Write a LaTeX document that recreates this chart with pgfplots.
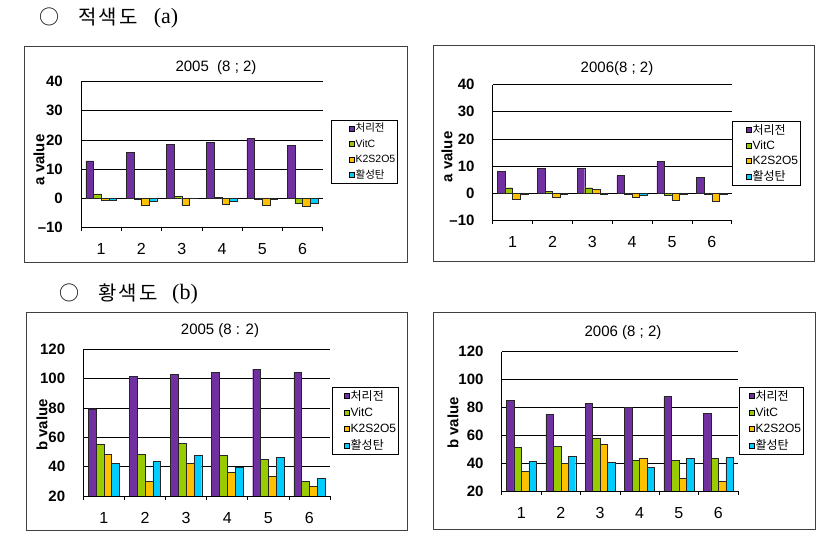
\documentclass[border=0pt]{standalone}
\usepackage{pgfplots}
\usepackage{pgfplotstable}
\pgfplotsset{compat=1.18}
\usepackage{fontspec}
\setmainfont{Liberation Sans}
\newfontfamily\kr{Noto Sans CJK KR}
\newfontfamily\krh[LetterSpace=12]{Noto Sans CJK KR}
\newfontfamily\serif{Liberation Serif}
\definecolor{cP}{RGB}{112,48,160}
\definecolor{cG}{RGB}{153,204,0}
\definecolor{cO}{RGB}{255,192,0}
\definecolor{cC}{RGB}{0,204,255}

% x  purple green orange cyan
\pgfplotstableread{
x p g o c
1 12.8 1.5 -0.8 -0.8
2 15.8 -0.3 -2.5 -1.0
3 18.5 0.7 -2.5 -0.1
4 19.2 0.3 -2.1 -1.0
5 20.5 -0.3 -2.5 -0.3
6 18.2 -1.8 -2.9 -1.8
}\tA
\pgfplotstableread{
x p g o c
1 8.0 2.0 -2.1 -0.5
2 9.2 0.6 -1.6 -0.5
3 9.2 2.0 1.5 -0.3
4 6.5 -0.3 -1.6 -0.9
5 11.7 -0.9 -2.5 -0.5
6 5.8 -0.3 -2.8 -0.3
}\tB
\pgfplotstableread{
x p g o c
1 79.5 55.2 48.4 42.3
2 101.6 48.4 30.0 43.6
3 103.0 55.9 42.3 47.7
4 104.3 47.7 36.1 39.5
5 106.4 45.0 33.4 46.4
6 104.3 30.0 26.8 32.0
}\tC
\pgfplotstableread{
x p g o c
1 85.0 51.4 34.3 41.4
2 75.0 52.1 40.0 45.0
3 82.9 57.8 53.5 40.7
4 80.0 42.2 43.6 37.1
5 87.9 42.2 29.1 43.6
6 75.7 43.6 26.9 44.3
}\tD

\def\lpad{12pt}
\newcommand\ls{\rule[-0.28em]{0pt}{1.05em}}
\pgfplotsset{
  lg/.style={legend image code/.code={\path (0pt,0pt) (\lpad+6pt,0pt);\draw[##1, draw=black, line width=0.4pt] (\lpad,-2.5pt) rectangle (\lpad+5pt,2.5pt);}},
  panel/.style={
    scale only axis, anchor=south west,
    ybar=0pt, bar width=0.19,
    xmin=0.5, xmax=6.5,
    xtick={1,2,3,4,5,6}, xticklabels={1,2,3,4,5,6},
    minor xtick={0.5,1.5,...,6.5},
    major tick length=0pt, minor tick length=4pt, tick align=outside,
    tick style={black, line width=0.6pt},
    axis x line*=bottom, axis y line*=left,
    axis line style={-, black, line width=0.8pt},
    ymajorgrids, grid style={black, line width=0.7pt},
    xticklabel style={font=\fontsize{16}{16}\selectfont, anchor=north, inner sep=0pt, yshift=-16pt},
    yticklabel style={font=\bfseries\fontsize{15}{15}\selectfont, anchor=east, inner sep=0pt, xshift=-18pt},
    legend cell align=left,
    legend style={anchor=north west, draw=black, line width=0.6pt,
      inner xsep=1.5pt, inner ysep=2pt,
      nodes={inner xsep=0.5pt, inner ysep=1pt}},
  },
  bp/.style={fill=cP, draw=black!85, line width=0.4pt, lg},
  bg/.style={fill=cG, draw=black!85, line width=0.4pt, lg},
  bo/.style={fill=cO, draw=black!85, line width=0.4pt, lg},
  bc/.style={fill=cC, draw=black!85, line width=0.4pt, lg},
}

\begin{document}
\begin{tikzpicture}[x=1pt,y=1pt]
\useasboundingbox (0,0) rectangle (837,540);
\fill[white] (0,0) rectangle (837,540);

% headers
\node at (49,523) {\kr\fontsize{20}{20}\selectfont ○};
\node at (108,523) {\krh\fontsize{20}{20}\selectfont 적색도};
\node at (166,522) {\serif\fontsize{22}{22}\selectfont (a)};
\node at (69.5,247) {\kr\fontsize{20}{20}\selectfont ○};
\node at (128,247) {\krh\fontsize{20}{20}\selectfont 황색도};
\node at (185,246) {\serif\fontsize{22}{22}\selectfont (b)};

% frames
\draw[line width=0.8pt, black!75] (24,278) rectangle (407,494);
\draw[line width=0.8pt, black!75] (433,279) rectangle (814,495);
\draw[line width=0.8pt, black!75] (26,10) rectangle (407,228);
\draw[line width=0.8pt, black!75] (433,11) rectangle (815,228);

% titles
\node at (216,472) {\fontsize{15}{15}\selectfont 2005\ \ (8 ; 2)};
\node at (617,471) {\fontsize{15}{15}\selectfont 2006(8 ; 2)};
\node at (220,209) {\fontsize{15}{15}\selectfont 2005 (8 : 2)};
\node at (623,207) {\fontsize{15}{15}\selectfont 2006 (8 ; 2)};

% y labels
\node[rotate=90] at (39,380) {\bfseries\fontsize{15}{15}\selectfont a value};
\node[rotate=90] at (447,383) {\bfseries\fontsize{15}{15}\selectfont a value};
\node[rotate=90] at (42,115) {\bfseries\fontsize{15}{15}\selectfont b value};
\node[rotate=90] at (453,117) {\bfseries\fontsize{15}{15}\selectfont b value};

% Panel 1
\def\lpad{16pt}
\begin{axis}[panel, at={(81pt,312.7pt)}, width=241.7pt, height=145.6pt,
  ymin=-10, ymax=40, ytick={-10,0,10,20,30,40}, yticklabels={–10,0,10,20,30,40},
  legend style={at={(1.034,0.737)}, font=\fontsize{10.5}{10.5}\selectfont, row sep=3.7pt}]
\addplot[bp] table[x=x,y=p]{\tA}; \addlegendentry{\ls\kr 처리전}
\addplot[bg] table[x=x,y=g]{\tA}; \addlegendentry{\ls VitC}
\addplot[bo] table[x=x,y=o]{\tA}; \addlegendentry{\ls K2S2O5}
\addplot[bc] table[x=x,y=c]{\tA}; \addlegendentry{\ls\kr 활성탄}
\end{axis}

% Panel 2
\def\lpad{12pt}
\begin{axis}[panel, at={(492.7pt,319.7pt)}, width=239pt, height=135.6pt,
  ymin=-10, ymax=40, ytick={-10,0,10,20,30,40}, yticklabels={–10,0,10,20,30,40},
  legend style={at={(1.001,0.732)}, font=\fontsize{12}{12}\selectfont, row sep=2.5pt}]
\addplot[bp] table[x=x,y=p]{\tB}; \addlegendentry{\ls\kr 처리전}
\addplot[bg] table[x=x,y=g]{\tB}; \addlegendentry{\ls VitC}
\addplot[bo] table[x=x,y=o]{\tB}; \addlegendentry{\ls K2S2O5}
\addplot[bc] table[x=x,y=c]{\tB}; \addlegendentry{\ls\kr 활성탄}
\end{axis}

% Panel 3
\def\lpad{10pt}
\begin{axis}[panel, at={(83.3pt,44pt)}, width=246.7pt, height=146.7pt,
  ymin=20, ymax=120, ytick={20,40,60,80,100,120}, yticklabels={20,40,60,80,100,120},
  legend style={at={(1.008,0.743)}, font=\fontsize{12}{12}\selectfont, row sep=3.5pt}]
\addplot[bp] table[x=x,y=p]{\tC}; \addlegendentry{\ls\kr 처리전}
\addplot[bg] table[x=x,y=g]{\tC}; \addlegendentry{\ls VitC}
\addplot[bo] table[x=x,y=o]{\tC}; \addlegendentry{\ls K2S2O5}
\addplot[bc] table[x=x,y=c]{\tC}; \addlegendentry{\ls\kr 활성탄}
\end{axis}

% Panel 4
\def\lpad{8pt}
\begin{axis}[panel, at={(501.7pt,49pt)}, width=236.3pt, height=139.3pt,
  ymin=20, ymax=120, ytick={20,40,60,80,100,120}, yticklabels={20,40,60,80,100,120},
  legend style={at={(1.004,0.747)}, font=\fontsize{12}{12}\selectfont, row sep=3.5pt}]
\addplot[bp] table[x=x,y=p]{\tD}; \addlegendentry{\ls\kr 처리전}
\addplot[bg] table[x=x,y=g]{\tD}; \addlegendentry{\ls VitC}
\addplot[bo] table[x=x,y=o]{\tD}; \addlegendentry{\ls K2S2O5}
\addplot[bc] table[x=x,y=c]{\tD}; \addlegendentry{\ls\kr 활성탄}
\end{axis}
\end{tikzpicture}
\end{document}
